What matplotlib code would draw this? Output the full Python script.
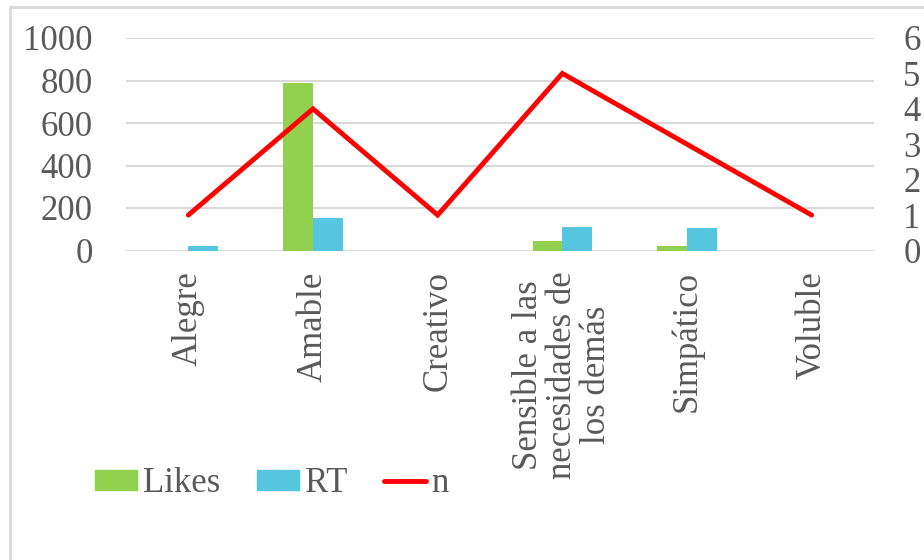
import matplotlib
matplotlib.use("Agg")
import matplotlib.pyplot as plt
import numpy as np
from matplotlib.patches import Rectangle
from matplotlib.lines import Line2D

plt.rcParams['font.family'] = ['Liberation Serif', 'DejaVu Serif']

categorias = ["Alegre", "Amable", "Creativo",
              "Sensible a las\nnecesidades de\nlos demás", "Simpático", "Voluble"]
likes = [0, 790, 0, 45, 20, 0]
rt = [20, 155, 0, 110, 105, 0]
n = [1, 4, 1, 5, 3, 1]

verde = "#92d050"
azul = "#56c5e0"
rojo = "#ff0000"
gris = "#595959"
rejilla = "#d9d9d9"
fs = 25

fig = plt.figure(figsize=(9.24, 5.6), dpi=100)
W, H = 924, 560
ax = fig.add_axes([126 / W, (560 - 250.5) / H, 748 / W, 212.5 / H])

x = np.arange(len(categorias))
bw = 0.237
ax.bar(x - bw / 2, likes, bw, color=verde, zorder=2)
ax.bar(x + bw / 2, rt, bw, color=azul, zorder=2)

ax.set_xlim(-0.5, len(categorias) - 0.5)
ax.set_ylim(0, 1000)
ax.set_yticks(range(0, 1001, 200))
ax.yaxis.grid(True, color=rejilla, linewidth=1.5, zorder=0)
ax.set_axisbelow(True)
for s in ax.spines.values():
    s.set_visible(False)
ax.tick_params(axis='y', length=0, pad=24, labelsize=fs, labelcolor=gris)
ax.set_xticks(x)
ax.set_xticklabels(categorias, rotation=90, fontsize=fs, color=gris,
                   linespacing=1.05, ha='center', va='top')
ax.tick_params(axis='x', length=0, pad=15)

ax2 = ax.twinx()
ax2.plot(x, n, color=rojo, linewidth=3.5, solid_capstyle='round',
         solid_joinstyle='miter', zorder=3)
ax2.set_ylim(0, 6)
ax2.set_yticks(range(0, 7))
for s in ax2.spines.values():
    s.set_visible(False)
ax2.tick_params(axis='y', length=0, pad=21, labelsize=fs, labelcolor=gris)

handles = [Rectangle((0, 0), 1, 1, color=verde),
           Rectangle((0, 0), 1, 1, color=azul),
           Line2D([], [], color=rojo, linewidth=3.5, solid_capstyle='round')]
fig.legend(handles, ["Likes", "RT", "n"], loc='center',
           bbox_to_anchor=(272 / W, 1 - 484 / H), ncol=3, frameon=False,
           fontsize=fs, labelcolor=gris, handlelength=1.2, handleheight=0.5,
           handletextpad=0.17, columnspacing=1.07, borderpad=0)

fig.patches.append(Rectangle((10 / W, -0.1), 1.2, 1 - 7 / H + 0.1,
                             transform=fig.transFigure, fill=False,
                             edgecolor=rejilla, linewidth=2))

fig.savefig("out.png", dpi=100)
